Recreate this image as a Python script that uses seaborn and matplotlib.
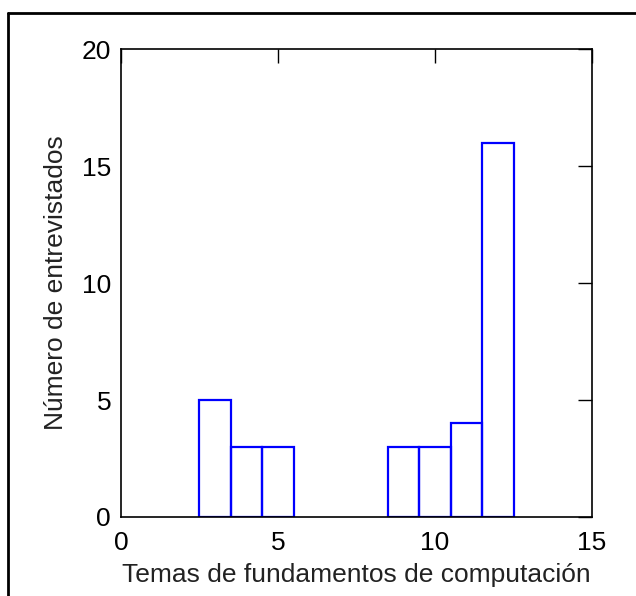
import matplotlib
matplotlib.use('Agg')
import matplotlib.pyplot as plt
import seaborn as sns
import pandas as pd
from matplotlib.lines import Line2D

# temas (x) and number of people (y)
temas = [3, 4, 5, 9, 10, 11, 12]
entrevistados = [5, 3, 3, 3, 3, 4, 16]

xticks = [0, 5, 10, 15]
yticks = [0, 5, 10, 15, 20]


def main():
    sns.set_style('white')
    plt.rcParams['font.family'] = ['Liberation Sans', 'DejaVu Sans']

    df = pd.DataFrame({'tema': temas, 'n': entrevistados})

    fig = plt.figure(figsize=(6.36, 5.96), dpi=100)
    ax = fig.add_axes([0.190, 0.1326, 0.741, 0.785])

    sns.barplot(data=df, x='tema', y='n', native_scale=True, width=1,
                fill=False, color='#0000ff', linewidth=1.6, errorbar=None, ax=ax)

    ax.set_xlim(0, 15)
    ax.set_ylim(0, 20)
    ax.set_xticks(xticks)
    ax.set_yticks(yticks)
    ax.tick_params(direction='in', length=10, width=1, top=True, right=True,
                   labelsize=19, colors='black')
    ax.tick_params(axis='x', pad=10)
    ax.tick_params(axis='y', pad=7)
    for s in ax.spines.values():
        s.set_visible(True)
        s.set_color('black')
        s.set_linewidth(1.2)
    ax.set_xlabel('Temas de fundamentos de computación', fontsize=19,
                  labelpad=6, color='#222222')
    ax.set_ylabel('Número de entrevistados', fontsize=19, labelpad=10,
                  color='#222222')

    # outer frame (top and left edges of the figure box)
    fig.add_artist(Line2D([8 / 636, 1.0], [1 - 13 / 596, 1 - 13 / 596],
                          transform=fig.transFigure, color='black', linewidth=2))
    fig.add_artist(Line2D([8 / 636, 8 / 636], [0.0, 1 - 13 / 596],
                          transform=fig.transFigure, color='black', linewidth=2))

    fig.savefig('out.png', dpi=100)


if __name__ == '__main__':
    main()
